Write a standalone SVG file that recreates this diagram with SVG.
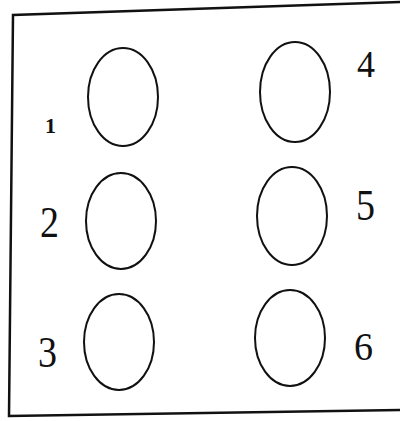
<svg xmlns="http://www.w3.org/2000/svg" width="400" height="421" viewBox="0 0 400 421">
<style>
.o{fill:none;stroke:#111;stroke-width:2}
.t{font-family:"Liberation Serif",serif;fill:#111}
.frame{fill:none;stroke:#111;stroke-width:2.5}
</style>
<rect width="400" height="421" fill="#fff"/>
<path class="frame" d="M402,2 L13,15 L9,416 L402,410"/>
<g id="node1"><ellipse class="o" cx="123" cy="97" rx="35" ry="49"/><text class="t" x="45" y="133" font-size="22" font-weight="bold">1</text></g>
<g id="node2"><ellipse class="o" cx="121" cy="221" rx="35" ry="48"/><text class="t" transform="translate(40,237) scale(1,1.15)" font-size="38">2</text></g>
<g id="node3"><ellipse class="o" cx="119" cy="342" rx="35" ry="48"/><text class="t" transform="translate(38,367) scale(1,1.15)" font-size="38">3</text></g>
<g id="node4"><ellipse class="o" cx="295" cy="92" rx="35" ry="50"/><text class="t" transform="translate(357,77) scale(1,1.05)" font-size="36">4</text></g>
<g id="node5"><ellipse class="o" cx="292" cy="216" rx="35" ry="49"/><text class="t" transform="translate(356,220) scale(1,1.15)" font-size="38">5</text></g>
<g id="node6"><ellipse class="o" cx="290" cy="338" rx="35" ry="48"/><text class="t" transform="translate(354,360) scale(1,1.05)" font-size="38">6</text></g>
<g id="connectors"></g>
</svg>
